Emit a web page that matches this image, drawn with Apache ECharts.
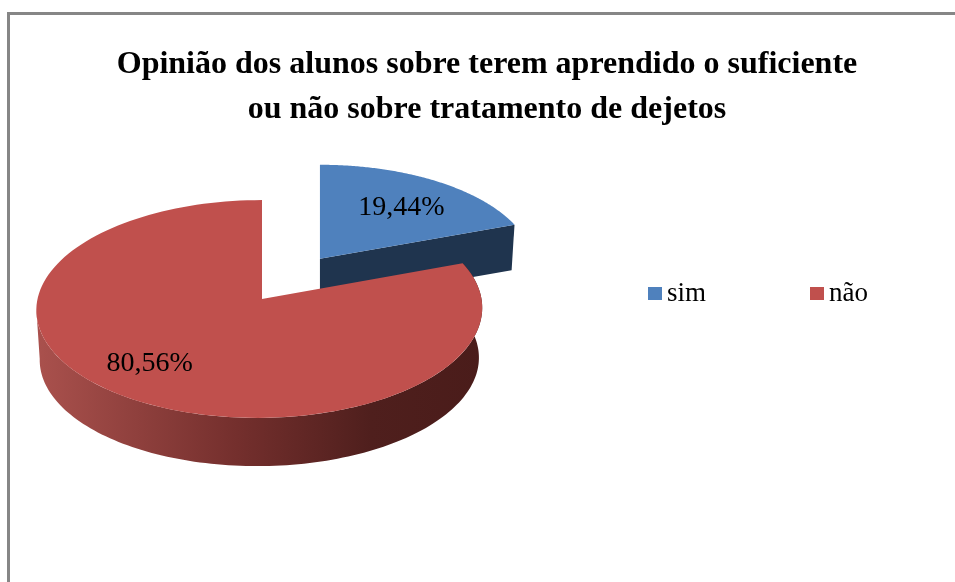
<!DOCTYPE html>
<html>
<head>
<meta charset="utf-8">
<style>
html, body { margin: 0; padding: 0; background: #fff; }
#chart { width: 955px; height: 582px; }
</style>
<script src="https://cdn.jsdelivr.net/npm/echarts@6/dist/echarts.min.js"></script>
</head>
<body>
<div id="chart"></div>
<script>
var categories = ['sim', 'não'];
var values = [19.44, 80.56];
var valueLabels = ['19,44%', '80,56%'];
var explode = [0.455, 0];

var topColors = ['#4F81BD', '#C0504D'];
var chartTitle = 'Opinião dos alunos sobre terem aprendido o suficiente\nou não sobre tratamento de dejetos';
var serif = '"Liberation Serif", "Times New Roman", serif';

// geometria do disco em perspectiva
var hub = { x: 262, y: 299 };
var rx = 222, ry = 108, persp = 0.0917, depth = 50, floorScale = 0.985, hubShift = 2.5;
// a fatia destacada fica mais ao fundo, logo menor
var farScale = { x: 0.97, y: 0.95, depth: 0.9 };
var nearScale = { x: 1, y: 1, depth: 1 };
// deslocamento dos rotulos em relacao ao raio medio
var labelRadius = 0.65;
var labelNudge = [[7, 0], [-20, 2]];

function sliceAngles(i) {
    var total = values.reduce(function (a, b) { return a + b; }, 0);
    var before = 0;
    for (var k = 0; k < i; k++) before += values[k];
    return [before / total * Math.PI * 2, (before + values[i]) / total * Math.PI * 2];
}

// angulo medido a partir do topo, sentido horario
function project(center, s, f, r, a) {
    var k = 1 / (1 + persp * Math.cos(a));
    return [
        center.x + s.x * f * (rx * Math.sin(a) * r * k - hubShift * (1 - Math.cos(a)) * r),
        center.y - s.y * f * ry * Math.cos(a) * r * k
    ];
}

function arc(center, s, f, a0, a1) {
    var pts = [];
    var n = 140;
    for (var i = 0; i <= n; i++) {
        pts.push(project(center, s, f, 1, a0 + (a1 - a0) * i / n));
    }
    return pts;
}

function sliceRenderer(i) {
    return function () {
        var ang = sliceAngles(i);
        var mid = (ang[0] + ang[1]) / 2;
        var c = {
            x: hub.x + explode[i] * rx * Math.sin(mid),
            y: hub.y - explode[i] * ry * Math.cos(mid)
        };
        var s = explode[i] > 0 ? farScale : nearScale;
        var floor = { x: c.x, y: c.y + depth * s.depth };
        var children = [];

        if (explode[i] > 0) {
            var e = project(c, s, 1, 1, ang[1]);
            var eb = project(floor, s, floorScale, 1, ang[1]);
            children.push({
                type: 'polygon',
                shape: { points: [[c.x, c.y], e, eb, [floor.x, floor.y]] },
                style: { fill: '#1F344E' }
            });
        } else {
            var wallEnd = Math.PI * 2 - Math.PI / 2 - Math.asin(persp);
            var upper = arc(c, s, 1, ang[0], wallEnd);
            var lower = arc(floor, s, floorScale, ang[0], wallEnd).reverse();
            children.push({
                type: 'polygon',
                shape: { points: upper.concat(lower) },
                style: {
                    fill: new echarts.graphic.LinearGradient(1, 0, 0, 0, [
                        { offset: 0, color: '#4A1C1A' },
                        { offset: 0.25, color: '#4F1F1D' },
                        { offset: 0.55, color: '#742F2D' },
                        { offset: 1, color: '#AA514D' }
                    ])
                }
            });
        }

        var surface = [[c.x, c.y]].concat(arc(c, s, 1, ang[0], ang[1]));
        children.push({
            type: 'polygon',
            shape: { points: surface },
            style: { fill: topColors[i] }
        });

        var lp = project(c, s, 1, labelRadius, mid);
        children.push({
            type: 'text',
            x: lp[0] + labelNudge[i][0],
            y: lp[1] + labelNudge[i][1],
            style: {
                text: valueLabels[i],
                fill: '#000',
                font: '28px ' + serif,
                align: 'center',
                verticalAlign: 'middle'
            }
        });
        return { type: 'group', children: children };
    };
}

var chart = echarts.init(document.getElementById('chart'), null, { renderer: 'canvas' });

var series = categories.map(function (name, i) {
    return {
        type: 'custom',
        name: name,
        coordinateSystem: 'none',
        silent: true,
        animation: false,
        itemStyle: { color: topColors[i] },
        data: [values[i]],
        renderItem: sliceRenderer(i)
    };
});

chart.setOption({
    animation: false,
    backgroundColor: '#fff',
    title: {
        text: chartTitle,
        left: 482,
        top: 37,
        textAlign: 'center',
        textStyle: { fontFamily: serif, fontSize: 32, fontWeight: 'bold', color: '#000', lineHeight: 45 }
    },
    legend: {
        data: categories,
        left: 643,
        top: 275,
        icon: 'rect',
        itemWidth: 14,
        itemHeight: 13,
        itemGap: 104,
        selectedMode: false,
        textStyle: { fontFamily: serif, fontSize: 27, color: '#000', padding: [0, 0, 0, 0] }
    },
    graphic: [
        { type: 'rect', shape: { x: 7, y: 12, width: 3, height: 570 }, style: { fill: '#868686' } },
        { type: 'rect', shape: { x: 7, y: 12, width: 948, height: 3 }, style: { fill: '#868686' } }
    ],
    series: series
});
</script>
</body>
</html>
